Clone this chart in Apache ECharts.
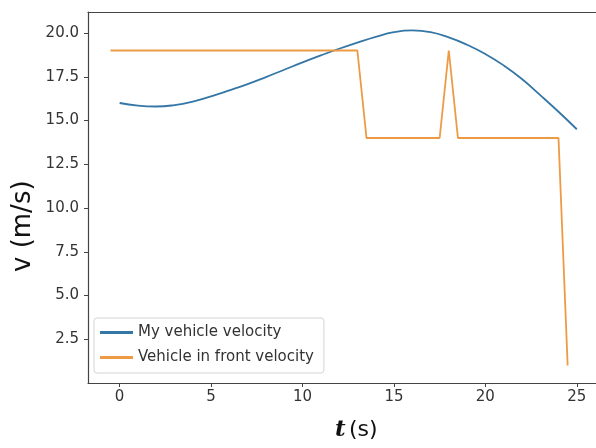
<!DOCTYPE html>
<html>
<head>
<meta charset="utf-8">
<script src="https://cdn.jsdelivr.net/npm/echarts@6/dist/echarts.min.js"></script>
<style>
  html, body { margin: 0; padding: 0; background: #fff; }
  #main { width: 596px; height: 448px; }
</style>
</head>
<body>
<div id="main"></div>
<script>
// my vehicle, sampled each second
const myTime = [0, 1, 2, 3, 4, 5, 6, 7, 8, 9, 10, 11, 12, 13, 14, 15, 16, 17, 18, 19, 20, 21, 22, 23, 24, 25];
const myVelocity = [16.0, 15.85, 15.8, 15.88, 16.08, 16.38, 16.72, 17.08, 17.48, 17.9, 18.32, 18.72, 19.1, 19.45, 19.78, 20.05, 20.15, 20.05, 19.75, 19.33, 18.8, 18.15, 17.37, 16.45, 15.5, 14.5];

// vehicle in front
const frontTime = [-0.5, 13, 13.5, 17.5, 18, 18.5, 24, 24.5];
const frontVelocity = [19, 19, 14, 14, 19, 14, 14, 1];

const yTicks = [2.5, 5.0, 7.5, 10.0, 12.5, 15.0, 17.5, 20.0];
const xTicks = [0, 5, 10, 15, 20, 25];

const blue = '#3476a6';
const orange = '#ee9a45';
const font = 'DejaVu Sans';
const spine = { show: true, onZero: false, lineStyle: { color: '#444', width: 1.2 } };

function pairs(xs, ys) {
  return xs.map((x, i) => [x, ys[i]]);
}

const chart = echarts.init(document.getElementById('main'), null, { renderer: 'canvas' });

const option = {
  animation: false,
  backgroundColor: '#fff',
  grid: {
    left: 88,
    right: 0,
    top: 12,
    bottom: 65
  },
  xAxis: [
    {
      type: 'value',
      min: -1.73,
      max: 26.05,
      interval: 5,
      axisLine: spine,
      axisTick: { show: true, length: 4, lineStyle: { color: '#444' }, customValues: xTicks },
      axisLabel: {
        fontFamily: font, fontSize: 15, color: '#333', margin: 7,
        customValues: xTicks,
        formatter: v => String(v)
      },
      splitLine: { show: false }
    },
    {
      // top spine only
      type: 'value',
      position: 'top',
      min: -1.73,
      max: 26.05,
      axisLine: spine,
      axisTick: { show: false },
      axisLabel: { show: false },
      splitLine: { show: false }
    }
  ],
  yAxis: {
    type: 'value',
    min: 0,
    max: 21.2,
    interval: 2.5,
    axisLine: spine,
    axisTick: { show: true, length: 4, lineStyle: { color: '#444' }, customValues: yTicks },
    axisLabel: {
      fontFamily: font, fontSize: 15, color: '#333', margin: 9,
      customValues: yTicks,
      formatter: v => v.toFixed(1)
    },
    splitLine: { show: false }
  },
  legend: {
    orient: 'vertical',
    left: 94,
    top: 318,
    icon: 'rect',
    itemWidth: 33,
    itemHeight: 3,
    itemGap: 10,
    padding: [7, 10, 8, 6],
    backgroundColor: 'rgba(255,255,255,0.85)',
    borderColor: '#d4d4d4',
    borderWidth: 1,
    borderRadius: 3,
    textStyle: { fontFamily: font, fontSize: 15, color: '#333' },
    data: ['My vehicle velocity', 'Vehicle in front velocity']
  },
  graphic: [
    {
      type: 'text',
      rotation: Math.PI / 2,
      x: 10,
      y: 272,
      style: {
        text: 'v (m/s)',
        font: '26px "DejaVu Sans"',
        fill: '#111'
      }
    },
    {
      type: 'text',
      left: 335,
      top: 419,
      style: {
        text: '{t|t} {s|(s)}',
        rich: {
          t: { fontFamily: 'DejaVu Serif', fontStyle: 'italic', fontWeight: 'bold', fontSize: 23, fill: '#111', color: '#111' },
          s: { fontFamily: font, fontSize: 22, fill: '#111', color: '#111' }
        }
      }
    }
  ],
  series: [
    {
      name: 'My vehicle velocity',
      type: 'line',
      data: pairs(myTime, myVelocity),
      smooth: 0.5,
      showSymbol: false,
      lineStyle: { color: blue, width: 1.8 },
      itemStyle: { color: blue }
    },
    {
      name: 'Vehicle in front velocity',
      type: 'line',
      data: pairs(frontTime, frontVelocity),
      showSymbol: false,
      lineStyle: { color: orange, width: 1.8 },
      itemStyle: { color: orange }
    }
  ]
};

chart.setOption(option);
</script>
</body>
</html>
